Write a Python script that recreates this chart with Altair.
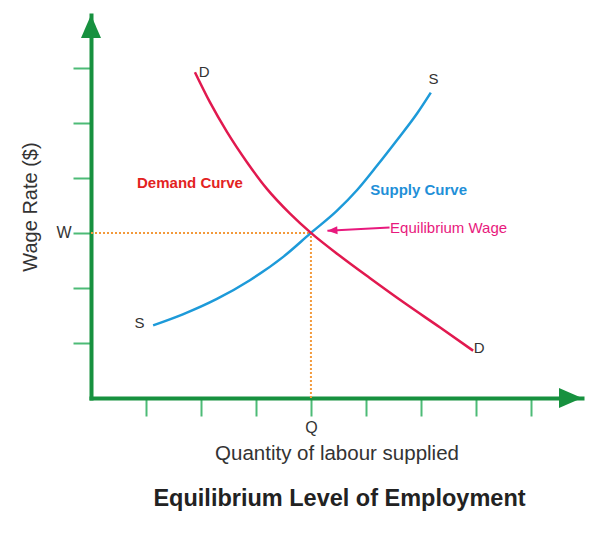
import altair as alt
import pandas as pd

# ---- data (axis units: one tick = 1) ----
demand_x = [1.89, 2.16, 2.47, 2.84, 3.20, 3.62, 4.0, 4.53, 5.07, 5.71, 6.35, 6.95]
demand_y = [5.92, 5.38, 4.84, 4.28, 3.80, 3.35, 3.0, 2.58, 2.18, 1.72, 1.28, 0.86]
supply_x = [1.13, 1.67, 2.29, 2.89, 3.49, 4.0, 4.47, 4.84, 5.20, 5.56, 5.93, 6.18]
supply_y = [1.32, 1.52, 1.80, 2.14, 2.56, 3.0, 3.40, 3.78, 4.22, 4.68, 5.17, 5.55]

eq_q = 4.0
eq_w = 3.0

y_ticks = [1, 2, 3, 4, 5, 6]
x_ticks = [1, 2, 3, 4, 5, 6, 7, 8]
x_max = 8.93
y_max = 6.96

curve_labels = ["Demand Curve", "Supply Curve"]
curve_label_x = [1.80, 5.96]
curve_label_y = [3.91, 3.78]
curve_label_color = ["#e3231f", "#1f90d8"]

end_labels = ["D", "D", "S", "S"]
end_label_x = [2.06, 7.06, 6.23, 0.88]
end_label_y = [5.93, 0.90, 5.80, 1.36]

note_text = ["Equilibrium Wage"]
note_x = [5.44]
note_y = [3.09]
arrow_x = [5.43, 4.30]
arrow_y = [3.10, 3.04]

AX = "#17913f"
TK = "#4dbb76"
FONT = "Liberation Sans"

xs = alt.Scale(domain=[0, x_max], nice=False, zero=False)
ys = alt.Scale(domain=[0, y_max], nice=False, zero=False)

demand_df = pd.DataFrame({"x": demand_x, "y": demand_y})
supply_df = pd.DataFrame({"x": supply_x, "y": supply_y})

# axes holder (invisible points so axes render)
axis_df = pd.DataFrame({"x": [0, x_max], "y": [0, y_max]})
base_axes = alt.Chart(axis_df).mark_point(opacity=0, size=1).encode(
    x=alt.X("x:Q", scale=xs,
            axis=alt.Axis(values=x_ticks, grid=False, domainColor=AX, domainWidth=4,
                          domainCap="square",
                          tickColor=TK, tickWidth=2, tickSize=18,
                          labelExpr=f"datum.value == {int(eq_q)} ? 'Q' : ''",
                          labelFont=FONT, labelFontSize=16, labelColor="#333",
                          labelPadding=3,
                          title="Quantity of labour supplied", titleFont=FONT,
                          titleFontSize=20.5, titleFontWeight="normal", titleColor="#333",
                          titlePadding=8)),
    y=alt.Y("y:Q", scale=ys,
            axis=alt.Axis(values=y_ticks, grid=False, domainColor=AX, domainWidth=4,
                          domainCap="square",
                          tickColor=TK, tickWidth=2, tickSize=18,
                          labelExpr=f"datum.value == {int(eq_w)} ? 'W' : ''",
                          labelFont=FONT, labelFontSize=16, labelColor="#333",
                          labelPadding=2,
                          title="Wage Rate ($)", titleFont=FONT,
                          titleFontSize=20, titleFontWeight="normal", titleColor="#333",
                          titlePadding=15)),
)

# dotted guides
hdf = pd.DataFrame({"x": [0], "x2": [eq_q], "y": [eq_w]})
vdf = pd.DataFrame({"x": [eq_q], "y": [0], "y2": [eq_w]})
hline = alt.Chart(hdf).mark_rule(color="#f39a3b", strokeWidth=2, strokeDash=[2, 2]).encode(
    x=alt.X("x:Q", scale=xs), x2="x2:Q", y=alt.Y("y:Q", scale=ys))
vline = alt.Chart(vdf).mark_rule(color="#f39a3b", strokeWidth=2, strokeDash=[2, 2]).encode(
    x=alt.X("x:Q", scale=xs), y=alt.Y("y:Q", scale=ys), y2="y2:Q")

supply = alt.Chart(supply_df).mark_line(color="#1d9ad9", strokeWidth=2.5, interpolate="monotone").encode(
    x=alt.X("x:Q", scale=xs), y=alt.Y("y:Q", scale=ys))
demand = alt.Chart(demand_df).mark_line(color="#e1194f", strokeWidth=2.5, interpolate="monotone").encode(
    x=alt.X("x:Q", scale=xs), y=alt.Y("y:Q", scale=ys))

# axis arrowheads
up_df = pd.DataFrame({"x": [0], "y": [y_max]})
right_df = pd.DataFrame({"x": [x_max], "y": [0]})
up_arrow = alt.Chart(up_df).mark_point(
    shape="M0,0L0.87,2L-0.87,2Z", size=529, filled=True, opacity=1, color=AX
).encode(x=alt.X("x:Q", scale=xs), y=alt.Y("y:Q", scale=ys))
right_arrow = alt.Chart(right_df).mark_point(
    shape="M0,0L-2,-0.87L-2,0.87Z", size=529, filled=True, opacity=1, color=AX
).encode(x=alt.X("x:Q", scale=xs), y=alt.Y("y:Q", scale=ys))

# equilibrium arrow
arr_df = pd.DataFrame({"x": arrow_x, "y": arrow_y, "o": [0, 1]})
arr_line = alt.Chart(arr_df).mark_line(color="#e8197d", strokeWidth=2).encode(
    x=alt.X("x:Q", scale=xs), y=alt.Y("y:Q", scale=ys), order="o:Q")
tip_df = pd.DataFrame({"x": [arrow_x[-1]], "y": [arrow_y[-1]]})
arr_tip = alt.Chart(tip_df).mark_point(
    shape="M0,0L2,-0.8L2,0.8Z", size=100, filled=True, opacity=1, color="#e8197d", angle=357
).encode(x=alt.X("x:Q", scale=xs), y=alt.Y("y:Q", scale=ys))

# labels
cl_df = pd.DataFrame({"t": curve_labels, "x": curve_label_x, "y": curve_label_y, "c": curve_label_color})
curve_txt = alt.Chart(cl_df).mark_text(font=FONT, fontSize=15, fontWeight="bold").encode(
    x=alt.X("x:Q", scale=xs), y=alt.Y("y:Q", scale=ys), text="t:N",
    color=alt.Color("c:N", scale=None))

el_df = pd.DataFrame({"t": end_labels, "x": end_label_x, "y": end_label_y})
end_txt = alt.Chart(el_df).mark_text(font=FONT, fontSize=15, color="#333").encode(
    x=alt.X("x:Q", scale=xs), y=alt.Y("y:Q", scale=ys), text="t:N")

nt_df = pd.DataFrame({"t": note_text, "x": note_x, "y": note_y})
note_txt = alt.Chart(nt_df).mark_text(font=FONT, fontSize=15, color="#e8197d", align="left").encode(
    x=alt.X("x:Q", scale=xs), y=alt.Y("y:Q", scale=ys), text="t:N")

chart = alt.layer(
    base_axes, hline, vline, supply, demand, up_arrow, right_arrow,
    arr_line, arr_tip, curve_txt, end_txt, note_txt
).properties(
    width=491, height=383,
    padding={"left": 83, "top": 7, "right": 8, "bottom": 139},
    autosize=alt.AutoSizeParams(type="none"),
    view=alt.ViewBackground(stroke="white", strokeWidth=0, strokeOpacity=0, fill="white"),
    title=alt.TitleParams("Equilibrium Level of Employment", orient="bottom", anchor="middle",
                          font=FONT, fontSize=23.5, fontWeight="bold", color="#222", offset=23, dx=3),
).configure_view(stroke="white", strokeWidth=0, strokeOpacity=0).configure(background="white")

chart.save("out.html", embed_options={"renderer": "svg", "actions": False})
